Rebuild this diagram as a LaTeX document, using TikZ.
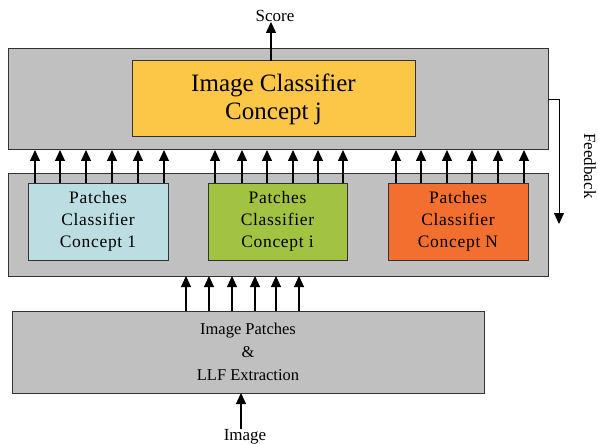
\documentclass[tikz,border=0pt]{standalone}
\usepackage{fontspec}
\setmainfont{Liberation Serif}
\newfontfamily\patchfont[LetterSpace=4]{Liberation Serif}
\usetikzlibrary{arrows.meta}
\definecolor{boxgray}{HTML}{C0C0C0}
\definecolor{edgegray}{HTML}{333333}
\definecolor{yel}{HTML}{FCC646}
\definecolor{cyanbox}{HTML}{BCDEE2}
\definecolor{greenbox}{HTML}{A2C242}
\definecolor{orangebox}{HTML}{F26F2F}
\tikzset{
  graybox/.style={draw=edgegray, fill=boxgray, line width=1pt, inner sep=0pt, outer sep=0pt},
  inbox/.style={draw=edgegray, line width=1pt, inner sep=0pt, outer sep=0pt, align=center,
    minimum height=77pt, font=\patchfont\fontsize{17.5}{22}\selectfont},
  arr/.style={line width=1.1pt, -{Triangle[width=10pt,length=11pt]}},
  lbl/.style={font=\fontsize{17}{21}\selectfont, inner sep=0pt}
}
\begin{document}
\begin{tikzpicture}[x=1pt,y=-1pt]
\useasboundingbox (0,0) rectangle (598,444);
% gray containers
\node[graybox, minimum width=540pt, minimum height=101pt] (top) at (278,99.5) {};
\node[graybox, minimum width=540pt, minimum height=103pt] (mid) at (278,224.5) {};
\node[graybox, minimum width=472pt, minimum height=82pt, align=center,
      font=\fontsize{16.5}{23}\selectfont] (bottom) at (248,352) {Image Patches\\\&\\LLF Extraction};
% inner boxes
\node[draw=edgegray, fill=yel, line width=1pt, inner sep=0pt, outer sep=0pt, align=center,
      minimum width=283pt, minimum height=76pt, font=\fontsize{25}{28}\selectfont] (yellow) at (273.5,99) {Image Classifier\\Concept j};
\node[inbox, fill=cyanbox, minimum width=140pt] (cyan) at (98,221.5) {Patches\\Classifier\\Concept 1};
\node[inbox, fill=greenbox, minimum width=139pt] (green) at (277.5,221.5) {Patches\\Classifier\\Concept i};
\node[inbox, fill=orangebox, minimum width=140pt] (orange) at (458,221.5) {Patches\\Classifier\\Concept N};
% labels
\node[lbl] (score) at (275,16) {Score};
\node[lbl] (img) at (245,437) {Image};
\node[lbl, rotate=-90] (fbtext) at (590,166) {Feedback};
% arrows from patch classifiers to image classifier
\foreach \x in {35,60,86,112,138,164}
  \draw[arr] (\x,0 |- cyan.north) -- (\x,0 |- top.south);
\foreach \x in {215,242,267,293,318,343}
  \draw[arr] (\x,0 |- green.north) -- (\x,0 |- top.south);
\foreach \x in {396,421,447,472,498,524}
  \draw[arr] (\x,0 |- orange.north) -- (\x,0 |- top.south);
% arrows from patches extraction to middle box
\foreach \x in {186,209,232,255,276,299}
  \draw[arr] (\x,0 |- bottom.north) -- (\x,0 |- mid.south);
% score
\draw[arr] (271,0 |- yellow.north) -- (271,0 |- score.south);
% image input
\draw[arr] (241,0 |- img.north) -- (241,0 |- bottom.south);
% feedback
\coordinate (fb) at (559,224);
\draw[arr, line width=0.9pt] (top.east) -| (fb);
\end{tikzpicture}
\end{document}
